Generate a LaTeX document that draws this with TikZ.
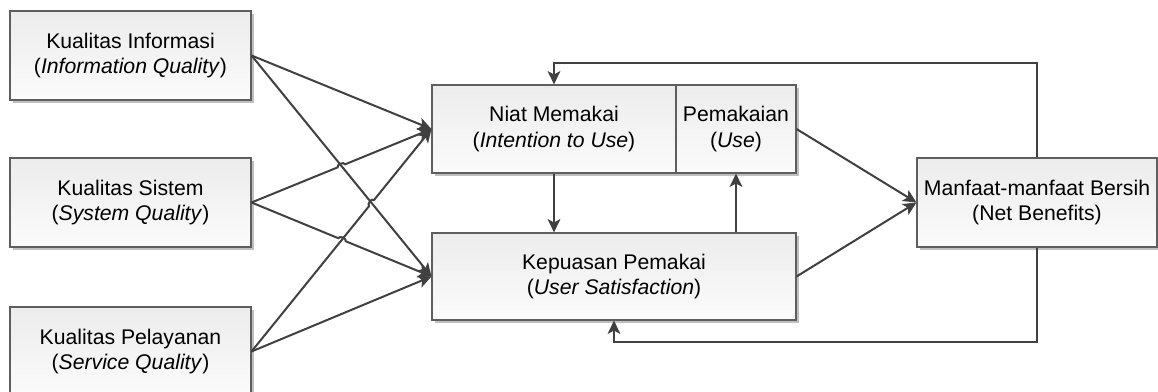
\documentclass[tikz,border=0pt]{standalone}
\usepackage{fontspec}
\setmainfont{Liberation Sans}
\usepackage{tikz}
\usetikzlibrary{arrows.meta,calc,shadows,positioning}
\definecolor{linegray}{HTML}{404040}
\definecolor{edgegray}{HTML}{5E5E5E}
\tikzset{
  box/.style={draw=edgegray, line width=0.8pt, top color=gray!15, bottom color=gray!3,
    align=center, inner sep=2pt, font=\fontsize{15.9pt}{19pt}\selectfont,
    drop shadow={shadow xshift=2pt, shadow yshift=-2pt, fill=black!25, opacity=1}},
  arr/.style={draw=linegray, line width=1.5pt, -{Stealth[length=10pt,width=9.5pt,inset=2.5pt]}}
}
% arrow from #1 to #2 that hops over the line #3--#4
\newcommand{\jumpline}[4]{%
  \coordinate (hop) at (intersection of #1--#2 and #3--#4);
  \draw[arr] (#1) -- ($(hop)!3pt!(#1)$) to[bend left=90] ($(hop)!3pt!(#2)$) -- (#2);}

\begin{document}
\begin{tikzpicture}[x=0.75pt,y=-0.75pt]
\useasboundingbox (0,0) rectangle (1158,392);
% left column
\node[box, minimum width=180.75pt, minimum height=66.75pt] (info) at (130.5,55.5) {Kualitas Informasi\\(\textit{Information Quality})};
\node[box, minimum width=180.75pt, minimum height=66.75pt] (sys) at (130.5,202.5) {Kualitas Sistem\\(\textit{System Quality})};
\node[box, minimum width=180.75pt, minimum height=66.75pt] (serv) at (130.5,351.5) {Kualitas Pelayanan\\(\textit{Service Quality})};
% middle
\node[box, minimum width=183pt, minimum height=66pt] (niat) at (554,129) {Niat Memakai\\(\textit{Intention to Use})};
\node[box, minimum width=90pt, minimum height=66pt] (pakai) at (736,129) {Pemakaian\\(\textit{Use})};
\node[box, minimum width=273pt, minimum height=65.25pt] (puas) at (614,276.5) {Kepuasan Pemakai\\(\textit{User Satisfaction})};
% right
\node[box, minimum width=180pt, minimum height=66.75pt] (manfaat) at (1037,202.5) {Manfaat-manfaat Bersih\\(Net Benefits)};
\coordinate (fbtop) at (1037,62.7);
\coordinate (fbbot) at (1037,341.7);

\draw[arr] (info.east) -- (niat.west);
\draw[arr] (info.east) -- (puas.west);
\jumpline{sys.east}{niat.west}{info.east}{puas.west}
\jumpline{sys.east}{puas.west}{serv.east}{niat.west}
\jumpline{serv.east}{niat.west}{info.east}{puas.west}
\draw[arr] (serv.east) -- (puas.west);

\draw[arr] (niat.south) -- (niat.south |- puas.north);
\draw[arr] (pakai.south |- puas.north) -- (pakai.south);
\draw[arr] (pakai.east) -- (manfaat.west);
\draw[arr] (puas.east) -- (manfaat.west);

\draw[arr] (manfaat.north) -- (fbtop) -| (niat.north);
\draw[arr] (manfaat.south) -- (fbbot) -| (puas.south);
\end{tikzpicture}
\end{document}
